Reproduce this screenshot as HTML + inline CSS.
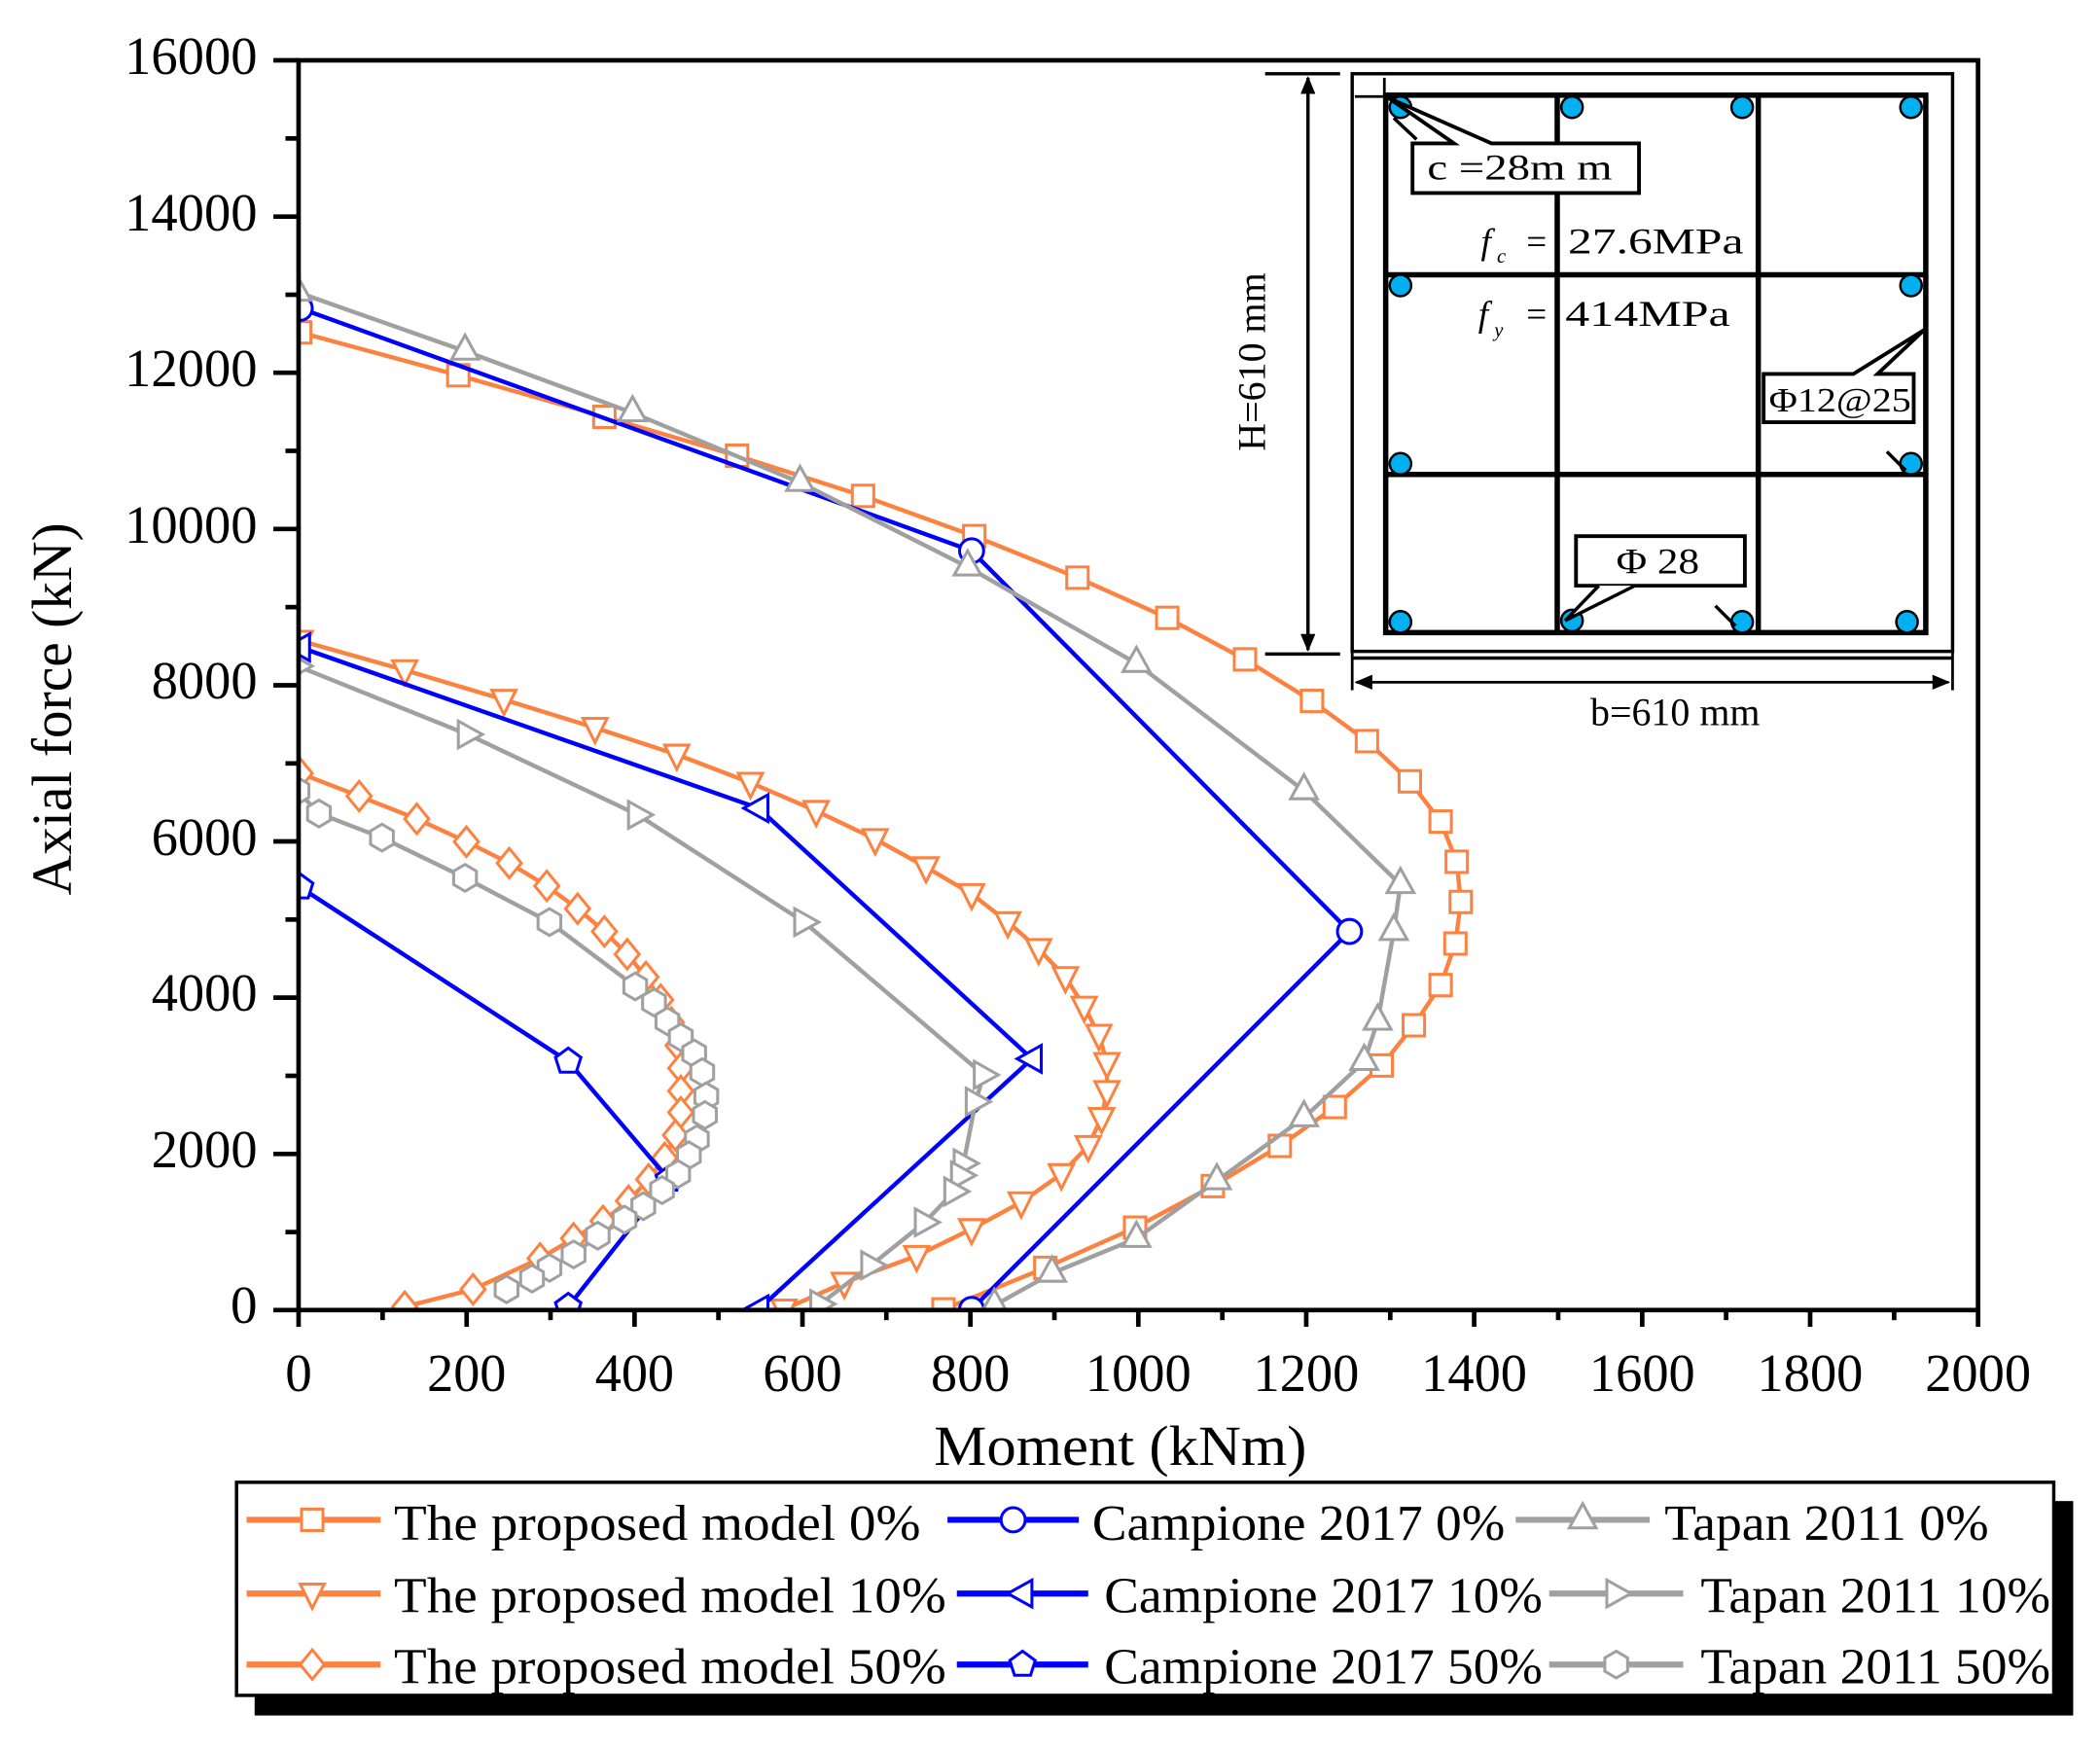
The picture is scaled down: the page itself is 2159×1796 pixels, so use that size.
<!DOCTYPE html>
<html><head><meta charset="utf-8">
<style>html,body{margin:0;padding:0;background:#fff;}svg{display:block;}</style>
</head><body>
<svg width="2159" height="1796" viewBox="0 0 1567 1303.5" xmlns="http://www.w3.org/2000/svg" font-family="'Liberation Serif', serif">
<defs>
<clipPath id="pc"><rect x="222.8" y="45" width="1253.2" height="932.5"/></clipPath>
<marker id="sq" markerUnits="userSpaceOnUse" markerWidth="30" markerHeight="30" refX="15" refY="15" overflow="visible"><rect x="7" y="7" width="16" height="16" fill="#fff" stroke="#fd8240" stroke-width="2.2"/></marker>
<marker id="ci" markerUnits="userSpaceOnUse" markerWidth="30" markerHeight="30" refX="15" refY="15" overflow="visible"><circle cx="15" cy="15" r="9" fill="#fff" stroke="#0000ff" stroke-width="2.2"/></marker>
<marker id="tu" markerUnits="userSpaceOnUse" markerWidth="30" markerHeight="30" refX="15" refY="15" overflow="visible"><polygon points="15,3 25,21 5,21" fill="#fff" stroke="#a0a0a0" stroke-width="2.2"/></marker>
<marker id="td" markerUnits="userSpaceOnUse" markerWidth="30" markerHeight="30" refX="15" refY="15" overflow="visible"><polygon points="15,26 24,8 6,8" fill="#fff" stroke="#fd8240" stroke-width="2.2"/></marker>
<marker id="tl" markerUnits="userSpaceOnUse" markerWidth="30" markerHeight="30" refX="15" refY="15" overflow="visible"><polygon points="4,15 22,5 22,25" fill="#fff" stroke="#0000ff" stroke-width="2.2"/></marker>
<marker id="tr" markerUnits="userSpaceOnUse" markerWidth="30" markerHeight="30" refX="15" refY="15" overflow="visible"><polygon points="26,15 8,5 8,25" fill="#fff" stroke="#a0a0a0" stroke-width="2.2"/></marker>
<marker id="di" markerUnits="userSpaceOnUse" markerWidth="30" markerHeight="30" refX="15" refY="15" overflow="visible"><polygon points="15,4 24,15 15,26 6,15" fill="#fff" stroke="#fd8240" stroke-width="2.2"/></marker>
<marker id="pe" markerUnits="userSpaceOnUse" markerWidth="30" markerHeight="30" refX="15" refY="15" overflow="visible"><polygon points="15,5 24.5,12 21,23 9,23 5.5,12" fill="#fff" stroke="#0000ff" stroke-width="2.2"/></marker>
<marker id="hx" markerUnits="userSpaceOnUse" markerWidth="30" markerHeight="30" refX="15" refY="15" overflow="visible"><polygon points="15,5 23.5,10 23.5,20 15,25 6.5,20 6.5,10" fill="#fff" stroke="#a0a0a0" stroke-width="2.2"/></marker>
</defs>

<g clip-path="url(#pc)" fill="none" stroke-width="3.2" stroke-linejoin="round">
<polyline stroke="#fd8240" marker-start="url(#sq)" marker-mid="url(#sq)" marker-end="url(#sq)" points="224,248 342,280 451,311 550,340 644,370 727,400 804,431 871,461 929,492 979,523 1020,553 1052,583 1075,613 1087,643 1090,673 1086,704 1075,735 1055,765 1031,795 996,826 955,855 905,885 847,916 780,946 704,977"/>
<polyline stroke="#0000ff" marker-start="url(#ci)" marker-mid="url(#ci)" marker-end="url(#ci)" points="224,230 725,411 1007,695 725,977"/>
<polyline stroke="#a0a0a0" marker-start="url(#tu)" marker-mid="url(#tu)" marker-end="url(#tu)" points="222,218 347,262 472,308 597,360 722,423 848,495 973,590 1045,660 1040,695 1028,762 1018,792 973,834 908,881 848,924 785,950 742,974"/>
<polyline stroke="#fd8240" marker-start="url(#td)" marker-mid="url(#td)" marker-end="url(#td)" points="224,478 302,500 376,522 444,543 505,563 560,584 609,605 653,626 691,647 725,667 752,688 775,708 795,729 809,751 820,772 826,793 826,814 822,834 812,855 792,876 762,897 725,917 684,937 630,957 585,977"/>
<polyline stroke="#0000ff" marker-start="url(#tl)" marker-mid="url(#tl)" marker-end="url(#tl)" points="224,483 566,603 770,790 566,977"/>
<polyline stroke="#a0a0a0" marker-start="url(#tr)" marker-mid="url(#tr)" marker-end="url(#tr)" points="222,497 349,548 476,608 600,688 734,802 728,822 719,868 717,877 712,889 690,912 650,944 612,973"/>
<polyline stroke="#fd8240" marker-start="url(#di)" marker-mid="url(#di)" marker-end="url(#di)" points="224,577 268,594 311,611 348,628 380,644 408,661 431,678 451,695 468,712 482,729 493,746 501,763 506,780 508,797 508,814 508,830 504,847 496,864 484,880 469,896 450,911 428,924 403,939 353,962 302,975"/>
<polyline stroke="#0000ff" marker-start="url(#pe)" marker-mid="url(#pe)" marker-end="url(#pe)" points="224,662 424,792 499,880 424,975"/>
<polyline stroke="#a0a0a0" marker-start="url(#hx)" marker-mid="url(#hx)" marker-end="url(#hx)" points="222,590 238,607 285,625 347,655 410,688 474,736 488,748 498,762 508,774 518,786 524,800 527,818 526,832 520,850 514,862 506,876 494,888 480,900 466,910 446,922 428,936 410,946 397,954 378,962"/>
</g>

<g stroke="#000" stroke-width="3.4" fill="none">
<rect x="222.8" y="45" width="1253.2" height="932.5"/>
</g>
<g stroke="#000" stroke-width="3.4">
<line x1="222.8" y1="977" x2="222.8" y2="990"/><line x1="348.2" y1="977" x2="348.2" y2="990"/><line x1="473.5" y1="977" x2="473.5" y2="990"/><line x1="598.8" y1="977" x2="598.8" y2="990"/><line x1="724.1" y1="977" x2="724.1" y2="990"/><line x1="849.4" y1="977" x2="849.4" y2="990"/><line x1="974.7" y1="977" x2="974.7" y2="990"/><line x1="1100" y1="977" x2="1100" y2="990"/><line x1="1225.4" y1="977" x2="1225.4" y2="990"/><line x1="1350.7" y1="977" x2="1350.7" y2="990"/><line x1="1476" y1="977" x2="1476" y2="990"/>
<line x1="285.5" y1="977" x2="285.5" y2="985"/><line x1="410.8" y1="977" x2="410.8" y2="985"/><line x1="536.1" y1="977" x2="536.1" y2="985"/><line x1="661.4" y1="977" x2="661.4" y2="985"/><line x1="786.8" y1="977" x2="786.8" y2="985"/><line x1="912.1" y1="977" x2="912.1" y2="985"/><line x1="1037.4" y1="977" x2="1037.4" y2="985"/><line x1="1162.7" y1="977" x2="1162.7" y2="985"/><line x1="1288" y1="977" x2="1288" y2="985"/><line x1="1413.4" y1="977" x2="1413.4" y2="985"/>
<line x1="204" y1="45" x2="222.8" y2="45"/><line x1="204" y1="161.6" x2="222.8" y2="161.6"/><line x1="204" y1="278.1" x2="222.8" y2="278.1"/><line x1="204" y1="394.7" x2="222.8" y2="394.7"/><line x1="204" y1="511.3" x2="222.8" y2="511.3"/><line x1="204" y1="627.8" x2="222.8" y2="627.8"/><line x1="204" y1="744.4" x2="222.8" y2="744.4"/><line x1="204" y1="861" x2="222.8" y2="861"/><line x1="204" y1="977.5" x2="222.8" y2="977.5"/>
<line x1="213" y1="103.3" x2="222.8" y2="103.3"/><line x1="213" y1="219.9" x2="222.8" y2="219.9"/><line x1="213" y1="336.4" x2="222.8" y2="336.4"/><line x1="213" y1="453" x2="222.8" y2="453"/><line x1="213" y1="569.6" x2="222.8" y2="569.6"/><line x1="213" y1="686.1" x2="222.8" y2="686.1"/><line x1="213" y1="802.7" x2="222.8" y2="802.7"/><line x1="213" y1="919.3" x2="222.8" y2="919.3"/>
</g>

<g font-size="40" fill="#000" text-anchor="end">
<text x="192" y="55" textLength="99" lengthAdjust="spacingAndGlyphs">16000</text>
<text x="192" y="172" textLength="99" lengthAdjust="spacingAndGlyphs">14000</text>
<text x="192" y="288" textLength="99" lengthAdjust="spacingAndGlyphs">12000</text>
<text x="192" y="405" textLength="99" lengthAdjust="spacingAndGlyphs">10000</text>
<text x="192" y="521" textLength="79" lengthAdjust="spacingAndGlyphs">8000</text>
<text x="192" y="638" textLength="79" lengthAdjust="spacingAndGlyphs">6000</text>
<text x="192" y="754" textLength="79" lengthAdjust="spacingAndGlyphs">4000</text>
<text x="192" y="871" textLength="79" lengthAdjust="spacingAndGlyphs">2000</text>
<text x="192" y="987">0</text>
</g>
<g font-size="40" fill="#000" text-anchor="middle">
<text x="222.8" y="1038">0</text>
<text x="348.2" y="1038" textLength="59" lengthAdjust="spacingAndGlyphs">200</text>
<text x="473.5" y="1038" textLength="59" lengthAdjust="spacingAndGlyphs">400</text>
<text x="598.8" y="1038" textLength="59" lengthAdjust="spacingAndGlyphs">600</text>
<text x="724.1" y="1038" textLength="59" lengthAdjust="spacingAndGlyphs">800</text>
<text x="849.4" y="1038" textLength="79" lengthAdjust="spacingAndGlyphs">1000</text>
<text x="974.7" y="1038" textLength="79" lengthAdjust="spacingAndGlyphs">1200</text>
<text x="1100" y="1038" textLength="79" lengthAdjust="spacingAndGlyphs">1400</text>
<text x="1225.4" y="1038" textLength="79" lengthAdjust="spacingAndGlyphs">1600</text>
<text x="1350.7" y="1038" textLength="79" lengthAdjust="spacingAndGlyphs">1800</text>
<text x="1476" y="1038" textLength="79" lengthAdjust="spacingAndGlyphs">2000</text>
</g>
<text x="836" y="1093" font-size="42" text-anchor="middle" textLength="278" lengthAdjust="spacingAndGlyphs">Moment (kNm)</text>
<text transform="translate(53,529) rotate(-90)" font-size="42" text-anchor="middle" textLength="278" lengthAdjust="spacingAndGlyphs">Axial force (kN)</text>

<g stroke="#000" fill="none">
<rect x="1009" y="55" width="448" height="431" stroke-width="2.5"/>
<line x1="1009" y1="491" x2="1457" y2="491" stroke-width="2.5"/>
<line x1="1009" y1="486" x2="1009" y2="515" stroke-width="2"/>
<line x1="1457" y1="486" x2="1457" y2="515" stroke-width="2"/>
<line x1="1012" y1="509" x2="1454" y2="509" stroke-width="2"/>
<polyline points="1024,504 1012,509 1024,514" fill="#000" stroke-width="1"/>
<polyline points="1442,504 1454,509 1442,514" fill="#000" stroke-width="1"/>
<line x1="944" y1="55" x2="1000" y2="55" stroke-width="2.5"/>
<line x1="944" y1="488" x2="1000" y2="488" stroke-width="2.5"/>
<line x1="976" y1="58" x2="976" y2="485" stroke-width="2.5"/>
<polyline points="971,70 976,58 981,70" fill="#000" stroke-width="1"/>
<polyline points="971,473 976,485 981,473" fill="#000" stroke-width="1"/>
<line x1="1011" y1="72" x2="1032" y2="72" stroke-width="2"/>
<line x1="1033" y1="58" x2="1033" y2="72" stroke-width="2"/>
<rect x="1034" y="71" width="403" height="401" stroke-width="4"/>
<line x1="1162" y1="71" x2="1162" y2="472" stroke-width="4"/>
<line x1="1312" y1="71" x2="1312" y2="472" stroke-width="4"/>
<line x1="1034" y1="205" x2="1437" y2="205" stroke-width="4"/>
<line x1="1034" y1="354" x2="1437" y2="354" stroke-width="4"/>
</g>
<g fill="#00b0f0" stroke="#000" stroke-width="1.8">
<circle cx="1045" cy="80" r="8"/><circle cx="1173" cy="80" r="8"/><circle cx="1300" cy="80" r="8"/><circle cx="1426" cy="80" r="8"/>
<circle cx="1045" cy="213" r="8"/><circle cx="1426" cy="213" r="8"/>
<circle cx="1045" cy="346" r="8"/><circle cx="1426" cy="346" r="8"/>
<circle cx="1045" cy="464" r="8"/><circle cx="1173" cy="463" r="8"/><circle cx="1300" cy="464" r="8"/><circle cx="1423" cy="464" r="8"/>
</g>
<g stroke="#000" stroke-width="2.5" fill="none">
<line x1="1040" y1="88" x2="1057" y2="104"/>
<line x1="1408" y1="337" x2="1422" y2="351"/>
<line x1="1280" y1="452" x2="1295" y2="467"/>
</g>
<path d="M1054,107 L1054,144 L1223,144 L1223,107 L1113,107 L1036,73 L1085,107 Z" fill="#fff" stroke="#000" stroke-width="2.8"/>
<text x="1065" y="134" font-size="27" textLength="138" lengthAdjust="spacingAndGlyphs">c =28m m</text>
<path d="M1316,279 L1316,315 L1428,315 L1428,279 L1401,279 L1436,246 L1383,279 Z" fill="#fff" stroke="#000" stroke-width="2.8"/>
<text x="1320" y="307" font-size="25" textLength="106" lengthAdjust="spacingAndGlyphs">Φ12@25</text>
<path d="M1176,400 L1176,437 L1302,437 L1302,400 Z" fill="#fff" stroke="#000" stroke-width="2.8"/>
<path d="M1193,437 L1168,463 L1220,437" fill="#fff" stroke="#000" stroke-width="2.5"/>
<text x="1206" y="428" font-size="27" textLength="62" lengthAdjust="spacingAndGlyphs">Φ 28</text>
<g font-size="27" fill="#000">
<text x="1105" y="189" font-style="italic">f</text><text x="1117" y="196" font-size="15" font-style="italic">c</text>
<text x="1139" y="189">=</text>
<text x="1170" y="189" textLength="131" lengthAdjust="spacingAndGlyphs">27.6MPa</text>
<text x="1103" y="243" font-style="italic">f</text><text x="1115" y="251" font-size="15" font-style="italic">y</text>
<text x="1139" y="243">=</text>
<text x="1168" y="243" textLength="123" lengthAdjust="spacingAndGlyphs">414MPa</text>
</g>
<text transform="translate(944,270) rotate(-90)" font-size="29" text-anchor="middle">H=610 mm</text>
<text x="1250" y="541" font-size="29" text-anchor="middle">b=610 mm</text>

<rect x="190" y="1120" width="1357" height="160" fill="#000"/>
<rect x="176.5" y="1106" width="1356" height="159" fill="#fff" stroke="#000" stroke-width="2.5"/>
<g stroke-width="4.5" fill="none">
<polyline points="184,1134 233,1134 284,1134" stroke="#fd8240" marker-mid="url(#sq)"/>
<polyline points="184,1189 233,1189 284,1189" stroke="#fd8240" marker-mid="url(#td)"/>
<polyline points="184,1242 233,1242 284,1242" stroke="#fd8240" marker-mid="url(#di)"/>
<polyline points="707,1134 756,1134 805,1134" stroke="#0000ff" marker-mid="url(#ci)"/>
<polyline points="714,1189 763,1189 812,1189" stroke="#0000ff" marker-mid="url(#tl)"/>
<polyline points="714,1242 763,1242 812,1242" stroke="#0000ff" marker-mid="url(#pe)"/>
<polyline points="1131,1134 1181,1134 1231,1134" stroke="#a0a0a0" marker-mid="url(#tu)"/>
<polyline points="1156,1189 1206,1189 1256,1189" stroke="#a0a0a0" marker-mid="url(#tr)"/>
<polyline points="1156,1242 1206,1242 1256,1242" stroke="#a0a0a0" marker-mid="url(#hx)"/>
</g>
<g font-size="38" fill="#000">
<text x="294" y="1149" textLength="393" lengthAdjust="spacingAndGlyphs">The proposed model 0%</text>
<text x="294" y="1203" textLength="412" lengthAdjust="spacingAndGlyphs">The proposed model 10%</text>
<text x="294" y="1256" textLength="412" lengthAdjust="spacingAndGlyphs">The proposed model 50%</text>
<text x="815" y="1149" textLength="308" lengthAdjust="spacingAndGlyphs">Campione 2017 0%</text>
<text x="824" y="1203" textLength="327" lengthAdjust="spacingAndGlyphs">Campione 2017 10%</text>
<text x="824" y="1256" textLength="327" lengthAdjust="spacingAndGlyphs">Campione 2017 50%</text>
<text x="1242" y="1149" textLength="242" lengthAdjust="spacingAndGlyphs">Tapan 2011 0%</text>
<text x="1269" y="1203" textLength="261" lengthAdjust="spacingAndGlyphs">Tapan 2011 10%</text>
<text x="1269" y="1256" textLength="261" lengthAdjust="spacingAndGlyphs">Tapan 2011 50%</text>
</g>
</svg>
</body></html>
